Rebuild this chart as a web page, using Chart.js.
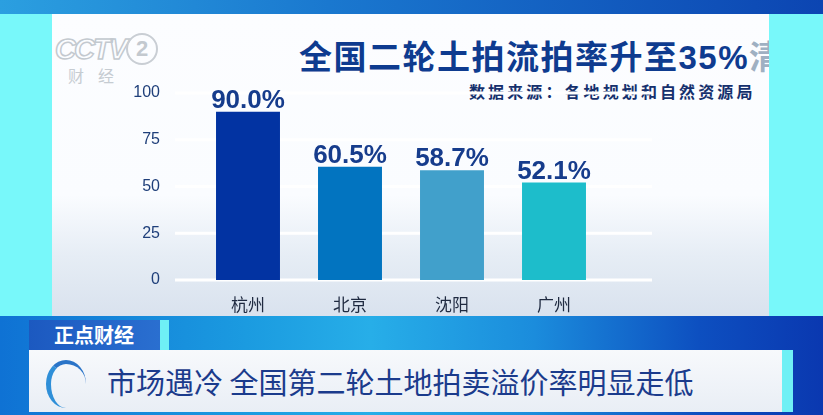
<!DOCTYPE html>
<html>
<head>
<meta charset="utf-8">
<script src="https://cdn.jsdelivr.net/npm/chart.js"></script>
<style>
  html, body { margin: 0; padding: 0; }
  body { width: 823px; height: 415px; position: relative; overflow: hidden; background: #78f8fa; font-family: "Liberation Sans", "Noto Sans CJK SC", sans-serif; }
  .topband { position: absolute; left: 0; top: 0; width: 823px; height: 14px; background: linear-gradient(90deg, #2b9fe0 0%, #1a78cf 40%, #0c45b2 100%); }
  .panel { position: absolute; left: 52px; top: 14px; width: 717px; height: 302px; overflow: hidden;
    background: linear-gradient(180deg, #fcfdff 0%, #fafcff 60%, #e6edf5 80%, #d9e2ee 100%); }
  .logo { position: absolute; left: 3px; top: 19px; color: transparent; -webkit-text-stroke: 1.5px #c3c9cf; font: italic bold 29px "Liberation Sans"; letter-spacing: -2px; }
  .logo2 { position: absolute; left: 74px; top: 19px; width: 28px; height: 28px; border-radius: 50%; border: 2px solid #c9ced4; color: #c3c9cf; font: bold 22px "Liberation Sans"; text-align: center; line-height: 28px; }
  .logocn { position: absolute; left: 16px; top: 49px; color: #c6ccd2; font: 16px "Noto Sans CJK SC"; letter-spacing: 14px; }
  .title { position: absolute; left: 247px; top: 17px; color: #0e3b8f; font-weight: bold; font-size: 33px; letter-spacing: 1.5px; white-space: nowrap; }
  .title .wm { color: #9fb0c2; }
  .source { position: absolute; left: 417px; top: 65px; color: #15306d; font-weight: bold; font-size: 16px; letter-spacing: 3.1px; white-space: nowrap; font-family: "Noto Sans CJK SC"; }
  .bottom { position: absolute; left: 0; top: 316px; width: 823px; height: 99px;
    background: linear-gradient(90deg, #0f72d4 0%, #1b9be0 30%, #27aee8 45%, #1b8cdc 65%, #0d4fc0 85%, #0a38b0 100%); }
  .tag { position: absolute; left: 29px; top: 320px; width: 131px; height: 30px; background: linear-gradient(90deg, #1c59c0, #2a6fd0); color: #fff; font: bold 20px "Noto Sans CJK SC"; line-height: 30px; box-sizing: border-box; padding-left: 25px; }
  .tagstrip { position: absolute; left: 160px; top: 320px; width: 9px; height: 30px; background: #6ff0f5; }
  .bar { position: absolute; left: 29px; top: 350px; width: 753px; height: 62px; background: linear-gradient(180deg, #f7f9fc, #e9eef5); }
  .barstrip { position: absolute; left: 782px; top: 350px; width: 11px; height: 62px; background: #6ff0f5; }
  .icon { position: absolute; left: 46px; top: 360px; width: 40px; height: 48px; border-radius: 50%; border-left: 5px solid #2f8fd8; border-top: 4px solid #2a74c8; box-sizing: border-box; }
  .headline { position: absolute; left: 107px; top: 360px; color: #1b3b8c; font: 29px "Noto Sans CJK SC"; white-space: nowrap; }
  canvas { position: absolute; left: 0; top: 0; }
</style>
</head>
<body>
<div class="topband"></div>
<div class="panel">
  <div class="logo">CCTV</div>
  <div class="logo2">2</div>
  <div class="logocn">财经</div>
  <div class="title">全国二轮土拍流拍率升至35%<span class="wm">清</span></div>
  <div class="source">数据来源：各地规划和自然资源局</div>
</div>
<div class="bottom"></div>
<div class="tag">正点财经</div>
<div class="tagstrip"></div>
<div class="bar"></div>
<div class="barstrip"></div>
<div class="icon"></div>
<div class="headline">市场遇冷 全国第二轮土地拍卖溢价率明显走低</div>
<canvas id="chart" width="823" height="415"></canvas>
<script>
const cities = ['杭州', '北京', '沈阳', '广州'];
const rates = [90.0, 60.5, 58.7, 52.1];
const barColors = ['#0233a2', '#0274c0', '#41a0cb', '#1dbdcb'];
const yTicks = [0, 25, 50, 75, 100];

const gridLines = {
  id: 'gridLines',
  beforeDatasetsDraw(chart) {
    const { ctx, chartArea, scales } = chart;
    ctx.save();
    ctx.strokeStyle = '#ffffff';
    ctx.lineWidth = 3;
    yTicks.forEach(v => {
      const y = scales.y.getPixelForValue(v);
      ctx.beginPath();
      ctx.moveTo(chartArea.left - 22, y);
      ctx.lineTo(chartArea.right + 47, y);
      ctx.stroke();
    });
    ctx.restore();
  }
};

const valueLabels = {
  id: 'valueLabels',
  afterDatasetsDraw(chart) {
    const ctx = chart.ctx;
    const meta = chart.getDatasetMeta(0);
    ctx.save();
    ctx.fillStyle = '#163c8c';
    ctx.font = 'bold 26px "Liberation Sans"';
    ctx.textAlign = 'center';
    ctx.textBaseline = 'alphabetic';
    meta.data.forEach((bar, i) => {
      ctx.fillText(rates[i].toFixed(1) + '%', bar.x, bar.y - 4);
    });
    ctx.restore();
  }
};

new Chart(document.getElementById('chart'), {
  type: 'bar',
  data: {
    labels: cities,
    datasets: [{
      data: rates,
      backgroundColor: barColors,
      barPercentage: 0.627,
      categoryPercentage: 1
    }]
  },
  options: {
    responsive: false,
    animation: false,
    layout: { padding: { top: 93, right: 218, bottom: 0, left: 0 } },
    plugins: { legend: { display: false }, tooltip: { enabled: false } },
    scales: {
      y: {
        min: 0, max: 100,
        afterFit(s) { s.width = 197; },
        grid: { display: false },
        border: { display: false },
        ticks: { stepSize: 25, padding: 29, color: '#1f3f7a', font: { family: 'Liberation Sans', size: 16 } }
      },
      x: {
        afterFit(s) { s.height = 135; },
        grid: { display: false },
        border: { display: false },
        ticks: { padding: 6, color: '#1f2a40', font: { family: 'Noto Sans CJK SC', size: 17 } }
      }
    }
  },
  plugins: [gridLines, valueLabels]
});
</script>
</body>
</html>
